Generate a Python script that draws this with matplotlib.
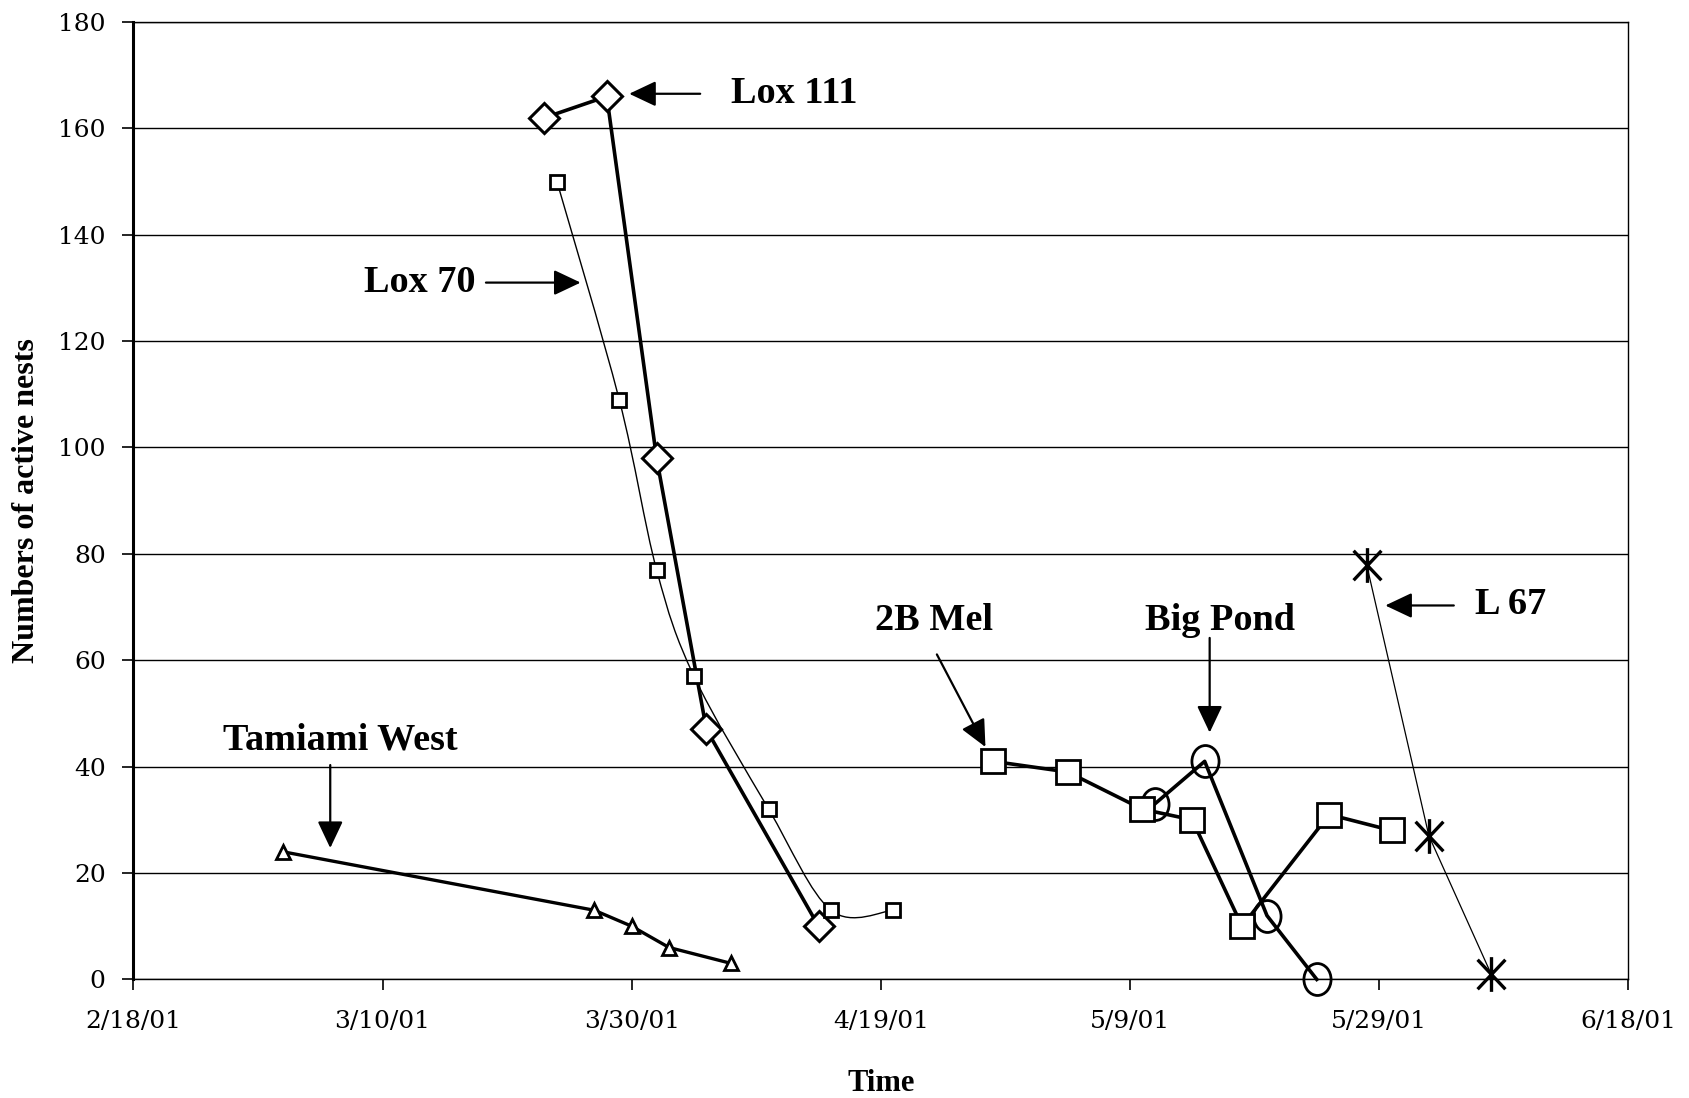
import datetime as dt
import matplotlib
matplotlib.use("Agg")
import matplotlib.pyplot as plt
import matplotlib.dates as mdates
from matplotlib.path import Path
from matplotlib.patches import PathPatch
from matplotlib.transforms import Affine2D

# data (month, day) -> nests
tamiami_dates = [(3, 2), (3, 27), (3, 30), (4, 2), (4, 7)]
tamiami_vals = [24, 13, 10, 6, 3]

lox111_dates = [(3, 23), (3, 28), (4, 1), (4, 5), (4, 14)]
lox111_vals = [162, 166, 98, 47, 10]

lox70_dates = [(3, 24), (3, 29), (4, 1), (4, 4), (4, 10), (4, 15), (4, 20)]
lox70_vals = [150, 109, 77, 57, 32, 13, 13]

mel_dates = [(4, 28), (5, 4), (5, 10), (5, 14), (5, 18), (5, 25), (5, 30)]
mel_vals = [41, 39, 32, 30, 10, 31, 28]

pond_dates = [(5, 11), (5, 15), (5, 20), (5, 24)]
pond_vals = [33, 41, 12, 0]

l67_dates = [(5, 28), (6, 2), (6, 7)]
l67_vals = [78, 27, 1]

tick_dates = [(2, 18), (3, 10), (3, 30), (4, 19), (5, 9), (5, 29), (6, 18)]
tick_labels = ["2/18/01", "3/10/01", "3/30/01", "4/19/01", "5/9/01", "5/29/01", "6/18/01"]


def day(m, d):
    # d may be fractional, used only for label/arrow placement
    return mdates.date2num(dt.date(2001, m, 1)) + d - 1


def to_x(md):
    return [day(m, d) for m, d in md]


def smooth_path(xs, ys, tension=1 / 6):
    # Excel style smoothed line as cubic bezier segments through the points
    pts = list(zip(xs, ys))
    verts = [pts[0]]
    codes = [Path.MOVETO]
    n = len(pts)
    for i in range(n - 1):
        p0 = pts[i - 1] if i > 0 else pts[i]
        p1 = pts[i]
        p2 = pts[i + 1]
        p3 = pts[i + 2] if i + 2 < n else pts[i + 1]
        c1 = (p1[0] + (p2[0] - p0[0]) * tension, p1[1] + (p2[1] - p0[1]) * tension)
        c2 = (p2[0] - (p3[0] - p1[0]) * tension, p2[1] - (p3[1] - p1[1]) * tension)
        verts += [c1, c2, p2]
        codes += [Path.CURVE4] * 3
    return Path(verts, codes)


serif = "Liberation Serif"
plt.rcParams["font.family"] = serif

fig = plt.figure(figsize=(16.89, 10.98), dpi=100)
ax = fig.add_axes([0.079, 0.108, 0.885, 0.872])

ax.set_xlim(day(2, 18), day(6, 18))
ax.set_ylim(0, 180)
ax.set_yticks(range(0, 181, 20))
ax.set_xticks(to_x(tick_dates))
ax.set_xticklabels(tick_labels)
ax.grid(axis="y", color="black", lw=1.0)
ax.set_axisbelow(True)
for s in ax.spines.values():
    s.set_linewidth(1.0)
ax.spines["left"].set_linewidth(2.2)
ax.tick_params(direction="out", length=8, width=1.2)
ax.tick_params(axis="x", pad=14)
ax.tick_params(axis="y", pad=12)
for lab in ax.get_xticklabels() + ax.get_yticklabels():
    lab.set_family("DejaVu Serif")
    lab.set_fontsize(18)

ax.set_ylabel("Numbers of active nests", fontsize=23, fontweight="bold", labelpad=12)
ax.set_xlabel("Time", fontsize=22, fontweight="bold", labelpad=26)

mk = dict(markerfacecolor="white", markeredgecolor="black", color="black", clip_on=False)

ax.plot(to_x(tamiami_dates), tamiami_vals, lw=2.4, marker="^", ms=10, mew=2, **mk)
ax.plot(to_x(lox111_dates), lox111_vals, lw=2.6, marker="D", ms=15, mew=2.2, zorder=4, **mk)

# Lox 70 - thin smoothed line
x70 = to_x(lox70_dates)
ax.add_patch(PathPatch(smooth_path(x70, lox70_vals), facecolor="none", edgecolor="black", lw=1.0, zorder=3))
ax.plot(x70, lox70_vals, ls="none", marker="s", ms=10.5, mew=2, zorder=5, **mk)

oval = Path.unit_circle().transformed(Affine2D().scale(0.85, 1.0))
ax.plot(to_x(pond_dates), pond_vals, lw=2.6, marker=oval, ms=23, mew=2, zorder=5,
        markerfacecolor="none", markeredgecolor="black", color="black", clip_on=False)
ax.plot(to_x(mel_dates), mel_vals, lw=2.6, marker="s", ms=17, mew=2, zorder=6, **mk)

star = Path([(-0.8, 0.85), (0.8, -0.85), (-0.8, -0.85), (0.8, 0.85), (0, 1), (0, -1)],
            [Path.MOVETO, Path.LINETO, Path.MOVETO, Path.LINETO, Path.MOVETO, Path.LINETO])
ax.plot(to_x(l67_dates), l67_vals, lw=0.9, marker=star, ms=25, mew=2.4, color="black",
        zorder=5, clip_on=False)

# labels with arrows
lab = dict(fontsize=27.5, fontweight="bold", family=serif)
arr = dict(arrowstyle="-|>,head_length=1.1,head_width=0.52", color="black", lw=1.6,
           shrinkA=0, shrinkB=0, mutation_scale=15)


def pointer(tip, tail):
    ax.annotate("", xy=(day(*tip[0]), tip[1]), xytext=(day(*tail[0]), tail[1]), arrowprops=arr)


ax.text(day(4, 7), 166.5, "Lox 111", va="center", ha="left", **lab)
pointer(((3, 29.8), 166.5), ((4, 4.5), 166.5))

ax.text(day(3, 8.5), 131, "Lox 70", va="center", ha="left", **lab)
pointer(((3, 25.9), 131), ((3, 18.3), 131))

ax.text(day(3, 6.6), 45, "Tamiami West", va="center", ha="center", **lab)
pointer(((3, 5.8), 24.7), ((3, 5.8), 40.3))

ax.text(day(4, 23.3), 67.5, "2B Mel", va="center", ha="center", **lab)
pointer(((4, 27.4), 43.7), ((4, 23.5), 61.1))

ax.text(day(5, 16.25), 67.5, "Big Pond", va="center", ha="center", **lab)
pointer(((5, 15.4), 46.4), ((5, 15.4), 64.2))

ax.text(day(6, 5.7), 70.5, "L 67", va="center", ha="left", **lab)
pointer(((5, 29.5), 70.3), ((6, 4), 70.3))

fig.savefig("out.png", dpi=100)
